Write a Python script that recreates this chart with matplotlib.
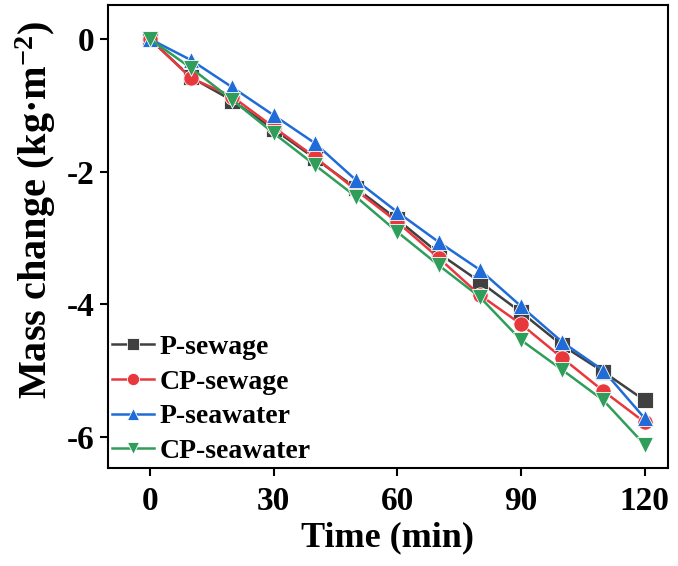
import numpy as np
from matplotlib import pyplot as plt

plt.rcParams['font.family'] = ['Liberation Serif', 'DejaVu Serif']
plt.rcParams['font.weight'] = 'bold'
plt.rcParams['axes.unicode_minus'] = False
plt.rcParams['mathtext.fontset'] = 'custom'
plt.rcParams['mathtext.rm'] = 'Liberation Serif:bold'
plt.rcParams['mathtext.bf'] = 'Liberation Serif:bold'
plt.rcParams['mathtext.it'] = 'Liberation Serif:bold:italic'

# Mass change over time for each specimen group
time = [0, 10, 20, 30, 40, 50, 60, 70, 80, 90, 100, 110, 120]
p_sewage = [0, -0.58, -0.93, -1.36, -1.80, -2.25, -2.72, -3.23, -3.66, -4.12, -4.62, -5.02, -5.45]
cp_sewage = [0, -0.59, -0.87, -1.33, -1.78, -2.28, -2.76, -3.30, -3.86, -4.30, -4.81, -5.31, -5.78]
p_seawater = [0, -0.32, -0.73, -1.15, -1.57, -2.13, -2.61, -3.06, -3.48, -4.03, -4.57, -5.00, -5.72]
cp_seawater = [0, -0.44, -0.92, -1.42, -1.90, -2.38, -2.91, -3.41, -3.89, -4.54, -4.99, -5.45, -6.12]

series = [
    ("P-sewage", p_sewage, "#404040", "s"),
    ("CP-sewage", cp_sewage, "#e8383d", "o"),
    ("P-seawater", p_seawater, "#1f6cd8", "^"),
    ("CP-seawater", cp_seawater, "#2e9e5a", "v"),
]

fig = plt.figure(figsize=(6.78, 5.66), dpi=100)
ax = fig.add_axes([0.159, 0.173, 0.826, 0.818])

for label, vals, color, marker in series:
    ax.plot(time, vals, color=color, marker=marker, markersize=11, linewidth=1.8,
            markeredgecolor="white", markeredgewidth=0.6, label=label)

ax.set_xlim(-10.2, 125.6)
ax.set_ylim(-6.47, 0.51)
ax.set_xticks([0, 30, 60, 90, 120])
ax.set_yticks([0, -2, -4, -6])
ax.tick_params(direction='out', length=6, width=1.5, labelsize=24)
ax.tick_params(axis='x', pad=7)
for lab in ax.get_xticklabels() + ax.get_yticklabels():
    lab.set_fontweight('bold')
for sp in ax.spines.values():
    sp.set_linewidth(1.5)

ax.set_xlabel("Time (min)", fontsize=26, fontweight="bold", labelpad=3)
ax.set_ylabel("Mass change (kg\u00b7m$^{-2}$)", fontsize=29, fontweight="bold")
ax.yaxis.set_label_coords(-0.089, 0.557)

ax.legend(loc="lower left", frameon=False, handlelength=1.5, markerscale=0.8,
          handletextpad=0.2, labelspacing=0.33, borderaxespad=0.05,
          borderpad=0.1, prop={'weight': 'bold', 'size': 20})

plt.savefig("out.png", dpi=100)
